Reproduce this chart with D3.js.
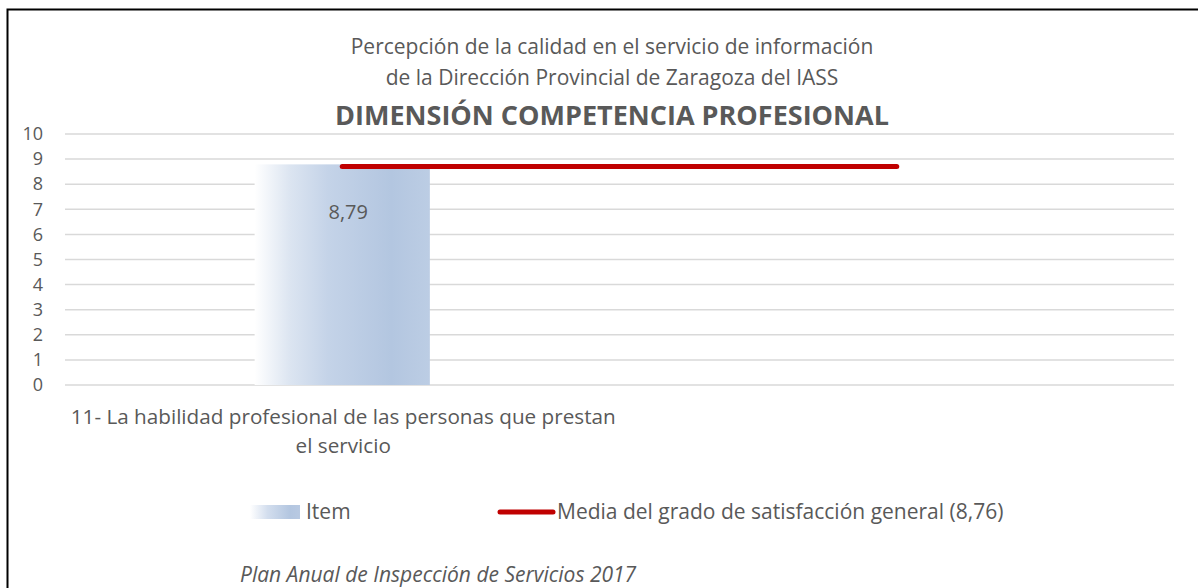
<!DOCTYPE html>
<html><head><meta charset="utf-8">
<script src="https://cdn.jsdelivr.net/npm/d3@7"></script>
<style>body{margin:0;background:#fff}svg{display:block}text{font-family:"Open Sans",sans-serif;fill:#595959}</style>
</head><body><svg id="c" width="1198" height="588"></svg>
<script>
const categories = ["11- La habilidad profesional de las personas que prestan el servicio", ""];
const categoryLines = [["11- La habilidad profesional de las personas que prestan", "el servicio"], []];
const itemValues = [8.79, null];
const mediaValues = [8.76, 8.76];
const yTicks = [0,1,2,3,4,5,6,7,8,9,10];
const titleLines = ["Percepción de la calidad en el servicio de información", "de la Dirección Provincial de Zaragoza del IASS"];
const mainTitle = "DIMENSIÓN COMPETENCIA PROFESIONAL";
const legendItems = ["Item", "Media del grado de satisfacción general (8,76)"];
const footer = "Plan Anual de Inspección de Servicios 2017";

const svg = d3.select("#c");
const defs = svg.append("defs");
const g1 = defs.append("linearGradient").attr("id","barGrad").attr("x1","0").attr("x2","1").attr("y1","0").attr("y2","0");
[[0,"#ffffff"],[0.2,"#dce5f1"],[0.42,"#c4d3e8"],[0.78,"#b3c6e0"],[1,"#bccde4"]].forEach(s=>g1.append("stop").attr("offset",s[0]).attr("stop-color",s[1]));
const g2 = defs.append("linearGradient").attr("id","legGrad").attr("x1","0").attr("x2","1");
[[0,"#ffffff"],[0.35,"#d3deee"],[0.8,"#b3c6e0"],[1,"#b8c9e2"]].forEach(s=>g2.append("stop").attr("offset",s[0]).attr("stop-color",s[1]));

// border
svg.append("path").attr("d","M7.5,588 L7.5,9.5 L1198,9.5").attr("fill","none").attr("stroke","#000").attr("stroke-width",2);

const x = d3.scaleBand().domain(categories.map((d,i)=>i)).range([65,1174]).paddingInner(0).paddingOuter(0);
const y = d3.scaleLinear().domain([0,10]).range([385,134]);
const cx = i => x(i)+x.bandwidth()/2;

// gridlines
svg.append("g").selectAll("line").data(yTicks).join("line")
  .attr("x1",65).attr("x2",1174).attr("y1",d=>y(d)).attr("y2",d=>y(d))
  .attr("stroke","#d9d9d9").attr("stroke-width",1.5);

// y axis labels
const yAxis = d3.axisLeft(y).tickValues(yTicks).tickSize(0).tickPadding(0).tickFormat(d3.format("d"));
const ya = svg.append("g").attr("transform","translate(43,0)").call(yAxis);
ya.select(".domain").remove();
ya.selectAll("text").style("font-size","18px").attr("fill","#595959").style("font-family","'Open Sans', sans-serif");

// bars
const barW = x.bandwidth()*0.316;
svg.append("g").selectAll("rect").data(itemValues.map((v,i)=>({v,i})).filter(d=>d.v!=null)).join("rect")
  .attr("x",d=>cx(d.i)-barW/2).attr("width",barW)
  .attr("y",d=>y(d.v)).attr("height",d=>y(0)-y(d.v)).attr("fill","url(#barGrad)");

// data label
svg.append("g").selectAll("text").data(itemValues.map((v,i)=>({v,i})).filter(d=>d.v!=null)).join("text")
  .attr("x",d=>cx(d.i)+6).attr("y",d=>y(d.v)+55)
  .attr("text-anchor","middle").style("font-size","20px")
  .text(d=>d3.format(".2f")(d.v).replace(".",","));

// line
const line = d3.line().x((d,i)=>cx(i)).y(d=>y(d)+1.5);
svg.append("path").datum(mediaValues).attr("d",line).attr("fill","none")
  .attr("stroke","#c00000").attr("stroke-width",5).attr("stroke-linecap","round");

// category labels
categoryLines.forEach((lines,i)=>{
  lines.forEach((l,j)=>{
    svg.append("text").attr("x",cx(i)+1).attr("y",424+j*29).attr("text-anchor","middle").style("font-size","20.7px").text(l);
  });
});

// titles
titleLines.forEach((t,i)=>svg.append("text").attr("x",612).attr("y",54+i*31).attr("text-anchor","middle").style("font-size","21px").text(t));
svg.append("text").attr("x",612).attr("y",124.5).attr("text-anchor","middle").style("font-size","27px").style("font-weight","bold").text(mainTitle);

// legend
svg.append("rect").attr("x",250).attr("y",505).attr("width",50).attr("height",14).attr("fill","url(#legGrad)");
svg.append("text").attr("x",306).attr("y",519).style("font-size","21px").text(legendItems[0]);
svg.append("line").attr("x1",500).attr("x2",553).attr("y1",512).attr("y2",512).attr("stroke","#c00000").attr("stroke-width",5).attr("stroke-linecap","round");
svg.append("text").attr("x",557).attr("y",519).style("font-size","21px").text(legendItems[1]);

// footer
svg.append("text").attr("x",240).attr("y",582).style("font-size","21px").style("font-style","italic").text(footer);
</script></body></html>
